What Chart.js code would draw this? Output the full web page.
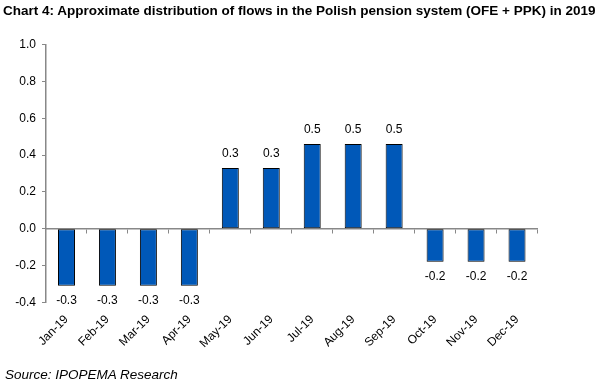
<!DOCTYPE html>
<html>
<head>
<meta charset="utf-8">
<script src="https://cdn.jsdelivr.net/npm/chart.js@4"></script>
<style>
  html, body { margin: 0; padding: 0; background: #fff; }
  #wrap { position: relative; width: 601px; height: 389px; overflow: hidden; }
  #c { position: absolute; left: 0; top: 0; }
  #title { position: absolute; left: 3px; top: 3.5px; font: bold 13.5px "Liberation Sans", Arial, sans-serif; line-height: 14px; color: #000; white-space: nowrap; }
  #source { position: absolute; left: 5px; top: 368px; font: italic 13.5px "Liberation Sans", Arial, sans-serif; line-height: 14px; color: #000; white-space: nowrap; }
</style>
</head>
<body>
<div id="wrap">
  <canvas id="c" width="601" height="389"></canvas>
  <div id="title">Chart 4: Approximate distribution of flows in the Polish pension system (OFE + PPK) in 2019</div>
  <div id="source">Source: IPOPEMA Research</div>
</div>
<script>
const categories = ["Jan-19","Feb-19","Mar-19","Apr-19","May-19","Jun-19","Jul-19","Aug-19","Sep-19","Oct-19","Nov-19","Dec-19"];
const flows = [-0.31,-0.31,-0.31,-0.31,0.33,0.33,0.46,0.46,0.46,-0.18,-0.18,-0.18];
const yTicks = [-0.4,-0.2,0.0,0.2,0.4,0.6,0.8,1.0];

const FONT = '"Liberation Sans", Arial, sans-serif';
const AXIS = '#888888';

const valueLabels = {
  id: 'valueLabels',
  afterDatasetsDraw(chart) {
    const ctx = chart.ctx;
    const meta = chart.getDatasetMeta(0);
    ctx.save();
    ctx.font = '12px ' + FONT;
    ctx.fillStyle = '#000';
    ctx.textAlign = 'center';
    ctx.textBaseline = 'middle';
    meta.data.forEach((bar, i) => {
      const v = flows[i];
      const txt = v.toFixed(1);
      const y = v >= 0 ? bar.y - 14 : bar.y + 15;
      ctx.fillText(txt, bar.x, y);
    });
    ctx.restore();
  }
};

new Chart(document.getElementById('c'), {
  type: 'bar',
  data: {
    labels: categories,
    datasets: [{
      data: flows,
      backgroundColor: '#0058b8',
      borderColor: '#000000',
      borderWidth: 1,
      borderSkipped: false,
      categoryPercentage: 1.0,
      barPercentage: 0.415,
      xAxisID: 'x',
      yAxisID: 'y'
    }]
  },
  options: {
    responsive: false,
    animation: false,
    events: [],
    layout: { padding: { left: 0, right: 63.5, top: 44.7, bottom: 0 } },
    plugins: { legend: { display: false }, title: { display: false }, tooltip: { enabled: false } },
    scales: {
      x: {
        type: 'category',
        position: 'bottom',
        offset: true,
        grid: { display: false, offset: true },
        border: { display: false },
        ticks: {
          color: '#000',
          font: { family: FONT, size: 12 },
          minRotation: 45,
          maxRotation: 45,
          autoSkip: false,
          padding: 2
        },
        afterFit(s) { s.height = 86.7; }
      },
      x0: {
        type: 'category',
        labels: categories,
        position: { y: 0 },
        offset: true,
        grid: { display: true, offset: true, drawOnChartArea: false, drawTicks: true, tickLength: 4, color: AXIS, lineWidth: 1 },
        border: { display: true, color: AXIS, width: 1.5 },
        ticks: { display: false }
      },
      y: {
        min: -0.4,
        max: 1.0,
        afterBuildTicks(s) { s.ticks = yTicks.map(v => ({ value: v })); },
        grid: { display: true, drawOnChartArea: false, drawTicks: true, tickLength: 4, color: AXIS },
        border: { display: true, color: AXIS, width: 1.5 },
        ticks: {
          color: '#000',
          font: { family: FONT, size: 12 },
          padding: 6,
          callback: v => Number(v).toFixed(1)
        },
        afterFit(s) { s.width = 46; }
      }
    }
  },
  plugins: [valueLabels]
});
</script>
</body>
</html>
